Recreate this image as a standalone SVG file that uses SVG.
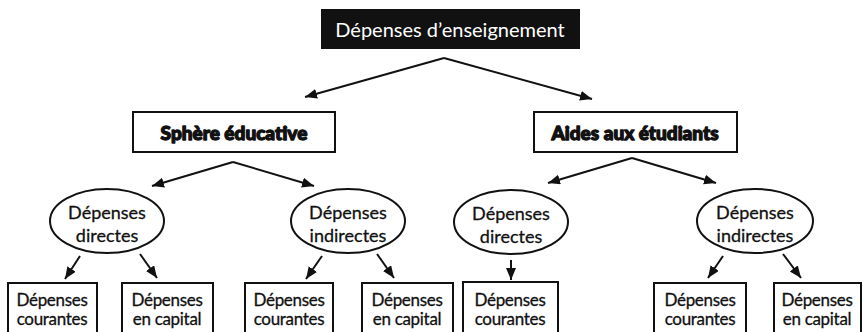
<svg xmlns="http://www.w3.org/2000/svg" width="863" height="332" viewBox="0 0 863 332">
<style>
.bg{fill:#fff}
.box{fill:#fff;stroke:#111;stroke-width:2}
.ell{fill:#fff;stroke:#111;stroke-width:2}
.t{font-family:Lato,"Open Sans","Liberation Sans",sans-serif;fill:#111;text-anchor:middle}
.title{font-size:20px;fill:#fff}
.heavy{font-size:19px;font-weight:900;stroke:#111;stroke-width:1.3;stroke-linejoin:round}
.e{font-size:18px;stroke:#111;stroke-width:0.3}
.b{font-size:17px;letter-spacing:-0.3px;stroke:#111;stroke-width:0.3}
.c{fill:none;stroke:#111;stroke-width:2;marker-end:url(#ah)}
</style>
<defs>
<marker id="ah" markerUnits="userSpaceOnUse" markerWidth="14" markerHeight="12" refX="12" refY="5" orient="auto">
<path d="M0,0 L12,5 L0,10 Z" fill="#111"/>
</marker>
</defs>
<rect class="bg" width="863" height="332"/>
<g id="connectors">
<path class="c" d="M444,58 L305,97"/>
<path class="c" d="M444,58 L592,99"/>
<path class="c" d="M233,162 L152,186"/>
<path class="c" d="M233,162 L314,186"/>
<path class="c" d="M632,158 L548,183"/>
<path class="c" d="M632,158 L716,183"/>
<path class="c" d="M80,256 L65,279"/>
<path class="c" d="M140,254 L157,278"/>
<path class="c" d="M322,256 L306,279"/>
<path class="c" d="M377,254 L394,278"/>
<path class="c" d="M511,260 L511,280"/>
<path class="c" d="M723,256 L708,278"/>
<path class="c" d="M783,254 L801,278"/>
</g>
<g id="n-root">
<rect x="321" y="9" width="259" height="40" fill="#111"/>
<text class="t title" x="450" y="37">Dépenses d’enseignement</text>
</g>
<g id="n-sphere">
<rect class="box" x="133" y="112" width="202" height="40"/>
<text class="t heavy" x="234" y="140">Sphère éducative</text>
</g>
<g id="n-aides">
<rect class="box" x="534" y="112" width="203" height="40"/>
<text class="t heavy" x="635" y="140">Aides aux étudiants</text>
</g>
<g id="n-e1">
<ellipse class="ell" cx="107" cy="221" rx="57" ry="32"/>
<text class="t e" x="107" y="219">Dépenses</text>
<text class="t e" x="107" y="242">directes</text>
</g>
<g id="n-e2">
<ellipse class="ell" cx="348" cy="221" rx="57" ry="32"/>
<text class="t e" x="348" y="219">Dépenses</text>
<text class="t e" x="348" y="242">indirectes</text>
</g>
<g id="n-e3">
<ellipse class="ell" cx="511" cy="222" rx="57" ry="32"/>
<text class="t e" x="511" y="220">Dépenses</text>
<text class="t e" x="511" y="243">directes</text>
</g>
<g id="n-e4">
<ellipse class="ell" cx="755" cy="221" rx="58" ry="32"/>
<text class="t e" x="755" y="219">Dépenses</text>
<text class="t e" x="755" y="242">indirectes</text>
</g>
<g id="n-b1">
<rect class="box" x="8" y="283" width="89" height="60"/>
<text class="t b" x="52" y="306">Dépenses</text>
<text class="t b" x="52" y="325">courantes</text>
</g>
<g id="n-b2">
<rect class="box" x="122" y="283" width="91" height="60"/>
<text class="t b" x="167" y="306">Dépenses</text>
<text class="t b" x="167" y="325">en capital</text>
</g>
<g id="n-b3">
<rect class="box" x="245" y="283" width="88" height="60"/>
<text class="t b" x="289" y="306">Dépenses</text>
<text class="t b" x="289" y="325">courantes</text>
</g>
<g id="n-b4">
<rect class="box" x="362" y="283" width="91" height="60"/>
<text class="t b" x="407" y="306">Dépenses</text>
<text class="t b" x="407" y="325">en capital</text>
</g>
<g id="n-b5">
<rect class="box" x="463" y="282" width="95" height="60"/>
<text class="t b" x="510" y="306">Dépenses</text>
<text class="t b" x="510" y="325">courantes</text>
</g>
<g id="n-b6">
<rect class="box" x="654" y="283" width="92" height="60"/>
<text class="t b" x="700" y="306">Dépenses</text>
<text class="t b" x="700" y="325">courantes</text>
</g>
<g id="n-b7">
<rect class="box" x="774" y="283" width="87" height="60"/>
<text class="t b" x="817" y="306">Dépenses</text>
<text class="t b" x="817" y="325">en capital</text>
</g>
</svg>
